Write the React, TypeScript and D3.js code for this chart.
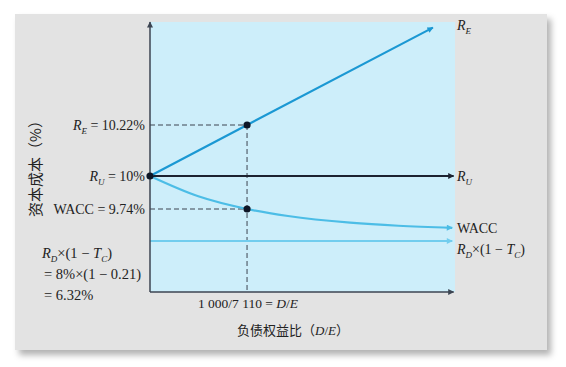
import React from "react";
import * as d3 from "d3";

// D/E values (x) and cost of capital values (%, y)
const deMarked = 1000 / 7110;
const reX = [0, deMarked, 0.41];
const reY = [10, 10.22, 10.64];
const ruX = [0, 0.44];
const ruY = [10, 10];
const waccX = [0, 0.07, deMarked, 0.2, 0.29, 0.36, 0.438];
const waccY = [10, 9.84, 9.74, 8.99, 8.28, 7.95, 7.73];
const rdX = [0, 0.438];
const rdY = [6.32, 6.32];
const yTickValues = [6.32, 9.74, 10, 10.22];

const W = 566;
const H = 367;
const SERIF = "'Liberation Serif', 'DejaVu Serif', serif";
const CJK = "'Noto Sans CJK SC', sans-serif";

export default function App() {
  const x = d3.scaleLinear().domain([0, 0.44]).range([150, 453.6]);
  // schematic (non-uniform) vertical scale
  const y = d3.scaleLinear().domain(yTickValues).range([241, 209, 176, 125]);
  const line = d3
    .line<[number, number]>()
    .x((d) => x(d[0]))
    .y((d) => y(d[1]));
  const curve = d3
    .line<[number, number]>()
    .x((d) => x(d[0]))
    .y((d) => y(d[1]))
    .curve(d3.curveMonotoneX);
  const zip = (a: number[], b: number[]) => a.map((v, i) => [v, b[i]] as [number, number]);

  const x0 = x(0);
  const xAxisY = 292;
  const yTop = 22;
  const xM = x(deMarked);

  const sub = (t: string) => (
    <tspan fontSize={9} dy={3.5} fontStyle="italic">{t}</tspan>
  );

  return (
    <svg width={W} height={H} style={{ position: "absolute", left: 0, top: 0 }}>
      <defs>
        <filter id="sh" x="-5%" y="-5%" width="115%" height="115%">
          <feDropShadow dx="4" dy="5" stdDeviation="3" floodColor="#000" floodOpacity="0.3" />
        </filter>
        {[
          ["aBlack", "#1c2230"],
          ["aRE", "#1b98d3"],
          ["aW", "#4cbde6"],
          ["aRD", "#72cdee"],
          ["aAx", "#3c4552"],
        ].map(([id, c]) => (
          <marker key={id} id={id} viewBox="0 0 10 10" refX="9" refY="5" markerWidth="10" markerHeight="6" markerUnits="userSpaceOnUse" orient="auto">
            <path d="M0,0 L10,5 L0,10 z" fill={c} />
          </marker>
        ))}
      </defs>
      <rect x={0} y={0} width={W} height={H} fill="#fff" />
      <rect x={15} y={14} width={532} height={336} fill="#e3e3e3" filter="url(#sh)" />
      <rect x={x0} y={yTop} width={455 - x0} height={xAxisY - yTop} fill="#cdeefa" />

      {/* dashed guides */}
      <g stroke="#3d4450" strokeWidth={1} strokeDasharray="5,3" fill="none">
        <line x1={x0} x2={xM} y1={y(10.22)} y2={y(10.22)} />
        <line x1={x0} x2={xM} y1={y(9.74)} y2={y(9.74)} />
        <line x1={xM} x2={xM} y1={y(10.22)} y2={xAxisY} />
      </g>

      {/* series */}
      <path d={line(zip(rdX, rdY)) || ""} stroke="#72cdee" strokeWidth={2} fill="none" markerEnd="url(#aRD)" />
      <path d={curve(zip(waccX, waccY)) || ""} stroke="#4cbde6" strokeWidth={2.2} fill="none" markerEnd="url(#aW)" />
      <path d={line(zip(ruX, ruY)) || ""} stroke="#1c2230" strokeWidth={2} fill="none" markerEnd="url(#aBlack)" />
      <path d={line(zip(reX, reY)) || ""} stroke="#1b98d3" strokeWidth={2.2} fill="none" markerEnd="url(#aRE)" />

      {/* axes */}
      <line x1={x0} x2={x0} y1={xAxisY} y2={yTop} stroke="#3c4552" strokeWidth={1.5} markerEnd="url(#aAx)" />
      <line x1={x0} x2={x(0.44)} y1={xAxisY} y2={xAxisY} stroke="#3c4552" strokeWidth={1.5} markerEnd="url(#aAx)" />

      {/* points */}
      <g fill="#0e1626">
        <circle cx={x0} cy={y(10)} r={3.6} />
        <circle cx={xM} cy={y(10.22)} r={3.6} />
        <circle cx={xM} cy={y(9.74)} r={3.6} />
      </g>

      {/* left labels */}
      <g fontFamily={SERIF} fontSize={14} fill="#222" textAnchor="end">
        <text x={145} y={130}>
          <tspan fontStyle="italic">R</tspan>{sub("E")}<tspan dy={-3.5}> = 10.22%</tspan>
        </text>
        <text x={145} y={181}>
          <tspan fontStyle="italic">R</tspan>{sub("U")}<tspan dy={-3.5}> = 10%</tspan>
        </text>
        <text x={145} y={214}>WACC = 9.74%</text>
      </g>
      <g fontFamily={SERIF} fontSize={14.5} fill="#222">
        <text x={42} y={258}>
          <tspan fontStyle="italic">R</tspan>{sub("D")}<tspan dy={-3.5}>×(1 − </tspan>
          <tspan fontStyle="italic">T</tspan>{sub("C")}<tspan dy={-3.5}>)</tspan>
        </text>
        <text x={44} y={279}>= 8%×(1 − 0.21)</text>
        <text x={44} y={300}>= 6.32%</text>
      </g>

      {/* right labels */}
      <g fontFamily={SERIF} fontSize={14} fill="#222">
        <text x={457} y={30}>
          <tspan fontStyle="italic">R</tspan>{sub("E")}
        </text>
        <text x={457} y={181}>
          <tspan fontStyle="italic">R</tspan>{sub("U")}
        </text>
        <text x={457} y={233}>WACC</text>
        <text x={457} y={254}>
          <tspan fontStyle="italic">R</tspan>{sub("D")}<tspan dy={-3.5}>×(1 − </tspan>
          <tspan fontStyle="italic">T</tspan>{sub("C")}<tspan dy={-3.5}>)</tspan>
        </text>
      </g>

      {/* x labels */}
      <text x={xM + 1} y={308} fontFamily={SERIF} fontSize={13.5} fill="#222" textAnchor="middle">
        1 000/7 110 = <tspan fontStyle="italic">D</tspan>/<tspan fontStyle="italic">E</tspan>
      </text>
      <text x={293} y={335} fontSize={13} fill="#222" textAnchor="middle">
        <tspan fontFamily={CJK}>负债权益比（</tspan>
        <tspan fontFamily={SERIF} fontStyle="italic">D</tspan>
        <tspan fontFamily={SERIF}>/</tspan>
        <tspan fontFamily={SERIF} fontStyle="italic">E</tspan>
        <tspan fontFamily={CJK}>）</tspan>
      </text>

      {/* y title */}
      <text transform="translate(41,165) rotate(-90)" fontFamily={CJK} fontSize={15} fill="#222" textAnchor="middle">
        资本成本（%）
      </text>
    </svg>
  );
}
